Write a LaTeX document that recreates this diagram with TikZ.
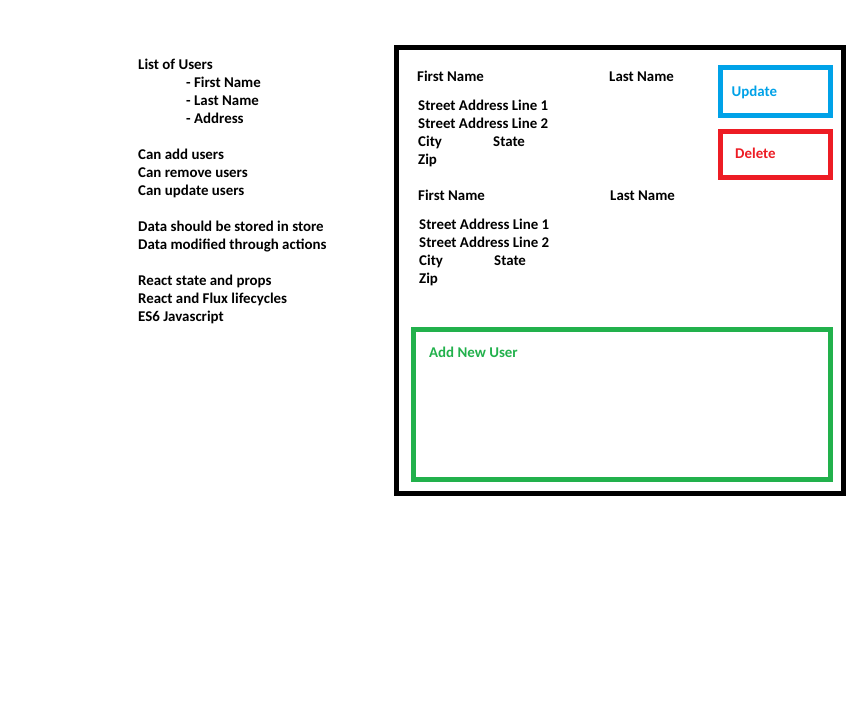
\documentclass[tikz,border=0pt]{standalone}
\usepackage{fontspec}
\setmainfont{Carlito}
\definecolor{paintblue}{HTML}{00A2E8}
\definecolor{paintred}{HTML}{ED1C24}
\definecolor{paintgreen}{HTML}{22B14C}
\begin{document}
\begin{tikzpicture}[x=1pt,y=-1pt,
  txt/.style={anchor=base west,inner sep=0pt,font=\fontsize{14.9}{18}\selectfont\bfseries},
  frame/.style={line width=5pt},
]
\useasboundingbox[fill=white] (0,0) rectangle (867,712);

% requirement notes
\node[txt] (n1) at (138,69) {List of Users};
\node[txt] (n2) at (186,87) {- First Name};
\node[txt] (n3) at (186,105) {- Last Name};
\node[txt] (n4) at (186,123) {- Address};
\node[txt] (n5) at (138,159) {Can add users};
\node[txt] (n6) at (138,177) {Can remove users};
\node[txt] (n7) at (138,195) {Can update users};
\node[txt] (n8) at (138,231) {Data should be stored in store};
\node[txt] (n9) at (138,249) {Data modified through actions};
\node[txt] (n10) at (138,285) {React state and props};
\node[txt] (n11) at (138,303) {React and Flux lifecycles};
\node[txt] (n12) at (138,321) {ES6 Javascript};

% app frame and buttons
\draw[frame,black] (396.5,47.5) rectangle (843,493);
\draw[frame,paintblue] (720,67.5) rectangle (830,115);
\draw[frame,paintred] (720,131) rectangle (830,177.5);
\draw[frame,paintgreen] (413.5,329) rectangle (830,479);

% first user
\node[txt] (f1) at (417,81) {First Name};
\node[txt] (l1) at (609,81) {Last Name};
\node[txt] (a1) at (418,110) {Street Address Line 1};
\node[txt] (b1) at (418,128) {Street Address Line 2};
\node[txt] (c1) at (418,146) {City};
\node[txt] (s1) at (493,146) {State};
\node[txt] (z1) at (418,164) {Zip};

% second user
\node[txt] (f2) at (418,200) {First Name};
\node[txt] (l2) at (610,200) {Last Name};
\node[txt] (a2) at (419,229) {Street Address Line 1};
\node[txt] (b2) at (419,247) {Street Address Line 2};
\node[txt] (c2) at (419,265) {City};
\node[txt] (s2) at (494,265) {State};
\node[txt] (z2) at (419,283) {Zip};

% button labels
\node[txt,text=paintblue] (upd) at (731.5,96) {Update};
\node[txt,text=paintred] (del) at (735,158) {Delete};
\node[txt,text=paintgreen] (add) at (429,357) {Add New User};
\end{tikzpicture}
\end{document}
